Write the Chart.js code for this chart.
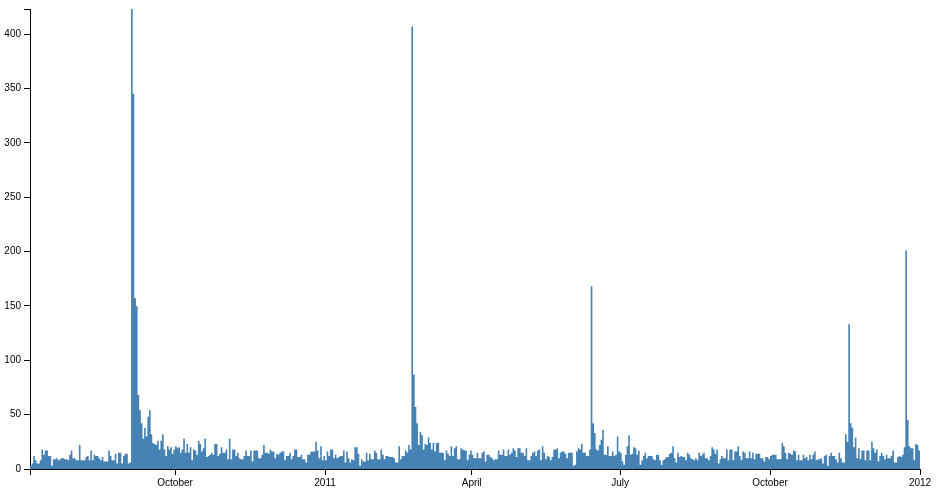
<!DOCTYPE html>
<html>
<head>
<meta charset="utf-8">
<script src="https://cdn.jsdelivr.net/npm/chart.js@4/dist/chart.umd.min.js"></script>
<style>
    html, body { margin: 0; padding: 0; background: #fff; }
    #wrap { width: 939px; height: 500px; position: relative; }
</style>
</head>
<body>
<div id="wrap"><canvas id="myChart"></canvas></div>
<script>
// one value per day, first day is 2010-07-04
const startDate = "2010-07-04";
const dailyCounts = [
    3, 5, 12, 8, 5, 5, 8, 18, 13, 17,
    17, 12, 12, 3, 9, 9, 10, 8, 9, 10,
    10, 9, 9, 8, 13, 17, 10, 10, 8, 8,
    22, 8, 8, 8, 11, 12, 8, 17, 8, 13,
    12, 12, 10, 8, 11, 7, 7, 7, 17, 12,
    8, 8, 14, 5, 15, 15, 5, 12, 14, 14,
    5, 6, 423, 345, 157, 150, 68, 54, 42, 28,
    38, 30, 48, 54, 32, 24, 23, 22, 26, 18,
    26, 32, 18, 12, 21, 18, 20, 14, 18, 21,
    19, 20, 15, 18, 28, 15, 23, 15, 20, 8,
    18, 17, 13, 26, 23, 16, 19, 28, 11, 12,
    13, 15, 13, 23, 23, 12, 14, 20, 15, 15,
    18, 9, 28, 9, 18, 18, 12, 15, 10, 9,
    9, 12, 17, 12, 12, 17, 7, 17, 17, 17,
    10, 10, 13, 22, 15, 15, 14, 18, 16, 16,
    10, 14, 13, 15, 16, 16, 8, 12, 12, 15,
    9, 12, 18, 18, 11, 11, 13, 9, 9, 6,
    13, 13, 16, 16, 16, 25, 17, 10, 21, 8,
    12, 8, 16, 12, 18, 18, 10, 13, 10, 11,
    12, 12, 17, 6, 16, 10, 6, 9, 8, 20,
    20, 14, 3, 9, 7, 7, 15, 8, 14, 9,
    9, 17, 15, 9, 9, 18, 13, 9, 12, 12,
    11, 11, 11, 10, 6, 6, 21, 9, 12, 12,
    17, 15, 22, 18, 407, 87, 57, 42, 22, 34,
    31, 18, 23, 22, 29, 24, 18, 24, 16, 24,
    24, 15, 15, 15, 8, 17, 14, 12, 21, 12,
    19, 21, 9, 9, 19, 18, 17, 17, 8, 13,
    17, 13, 10, 10, 15, 10, 10, 15, 16, 7,
    13, 13, 11, 10, 8, 9, 9, 17, 13, 13,
    18, 12, 12, 18, 13, 15, 19, 17, 11, 19,
    19, 15, 15, 12, 19, 8, 8, 12, 15, 16,
    12, 17, 18, 8, 21, 15, 9, 12, 11, 8,
    11, 18, 18, 19, 10, 15, 16, 16, 14, 10,
    15, 15, 15, 3, 4, 16, 19, 18, 23, 15,
    15, 12, 12, 18, 168, 42, 33, 18, 17, 22,
    27, 36, 13, 13, 21, 12, 12, 16, 12, 13,
    30, 16, 15, 7, 4, 13, 21, 31, 13, 14,
    20, 19, 13, 17, 4, 8, 12, 15, 10, 12,
    12, 12, 9, 8, 13, 13, 8, 4, 8, 9,
    11, 11, 14, 15, 21, 10, 6, 15, 11, 12,
    11, 11, 8, 15, 13, 10, 9, 8, 10, 8,
    15, 12, 13, 15, 10, 10, 8, 12, 20, 18,
    14, 18, 5, 9, 12, 10, 10, 18, 8, 18,
    18, 8, 16, 16, 21, 12, 8, 16, 15, 10,
    10, 16, 10, 15, 9, 14, 14, 14, 10, 10,
    7, 11, 11, 9, 12, 13, 13, 13, 9, 9,
    9, 24, 21, 15, 9, 15, 14, 13, 17, 16,
    8, 13, 8, 8, 13, 10, 11, 8, 13, 9,
    13, 16, 8, 9, 9, 10, 5, 12, 13, 3,
    12, 15, 12, 12, 9, 6, 15, 10, 6, 6,
    32, 25, 133, 42, 38, 20, 29, 10, 19, 9,
    17, 17, 8, 17, 17, 8, 25, 19, 15, 18,
    7, 12, 15, 12, 9, 13, 10, 10, 12, 17,
    6, 6, 11, 12, 11, 13, 20, 201, 45, 21,
    19, 19, 8, 23, 22, 17
];
const endDate = "2012-01-01";

const tickDates = ["2010-10-01", "2011-01-01", "2011-04-01", "2011-07-01", "2011-10-01", "2012-01-01"];
const tickLabels = ["October", "2011", "April", "July", "October", "2012"];
const yTickValues = [0, 50, 100, 150, 200, 250, 300, 350, 400];

function dayIndex(d) {
    return Math.round((Date.parse(d) - Date.parse(startDate)) / 86400000);
}

const lastDay = dayIndex(endDate);
const yMax = Math.max(...dailyCounts);

// step-after area: each value holds until the next day
const points = dailyCounts.map((v, i) => ({ x: i, y: v }));
points.push({ x: lastDay, y: dailyCounts[dailyCounts.length - 1] });

const xTicks = [0].concat(tickDates.map(dayIndex));
const xLabelOf = {};
tickDates.forEach((d, i) => { xLabelOf[dayIndex(d)] = tickLabels[i]; });

const axisFont = { family: "'Liberation Sans', Arial, sans-serif", size: 10 };

const ctx = document.getElementById("myChart");
new Chart(ctx, {
    type: "line",
    data: {
        datasets: [{
            data: points,
            stepped: "before",
            fill: "origin",
            backgroundColor: "#4682b4",
            borderColor: "rgba(0,0,0,0)",
            borderWidth: 0,
            pointRadius: 0,
            tension: 0
        }]
    },
    options: {
        responsive: true,
        maintainAspectRatio: false,
        animation: false,
        layout: { padding: { top: 9, right: 19, left: 0, bottom: 0 } },
        plugins: { legend: { display: false }, tooltip: { enabled: false } },
        scales: {
            x: {
                type: "linear",
                min: 0,
                max: lastDay,
                afterFit: s => { s.height = 31; },
                afterBuildTicks: s => { s.ticks = xTicks.map(v => ({ value: v })); },
                grid: { drawOnChartArea: false, drawTicks: true, tickLength: 6, color: "#000" },
                border: { display: true, color: "#000", width: 1 },
                ticks: {
                    autoSkip: false,
                    maxRotation: 0,
                    padding: 2,
                    color: "#000",
                    font: axisFont,
                    callback: v => xLabelOf[v] || ""
                }
            },
            y: {
                type: "linear",
                min: 0,
                max: yMax,
                afterFit: s => { s.width = 30; },
                afterBuildTicks: s => { s.ticks = yTickValues.concat([yMax]).map(v => ({ value: v })); },
                grid: { drawOnChartArea: false, drawTicks: true, tickLength: 6, color: "#000" },
                border: { display: true, color: "#000", width: 1 },
                ticks: {
                    padding: 3,
                    color: "#000",
                    font: axisFont,
                    callback: v => (yTickValues.includes(v) ? String(v) : "")
                }
            }
        }
    }
});
</script>
</body>
</html>
